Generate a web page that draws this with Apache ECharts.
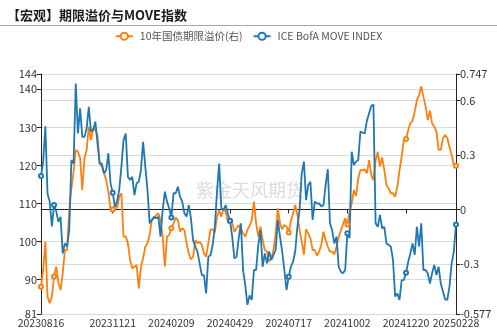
<!DOCTYPE html>
<html>
<head>
<meta charset="utf-8">
<script src="https://cdn.jsdelivr.net/npm/echarts@6/dist/echarts.min.js"></script>
<style>html,body{margin:0;padding:0;background:#fff;}#c{width:497px;height:330px;}</style>
</head>
<body>
<div id="c"></div>
<script>
const titleText = '【宏观】期限溢价与MOVE指数';
const seriesNames = ['10年国债期限溢价(右)', 'ICE BofA MOVE INDEX'];
const watermark = '紫金天风期货';
const startDate = '20230816';
const endDate = '20250228';
const marketHolidays = ['20230904','20231009','20231110','20231123','20231225','20240101','20240115','20240219','20240329','20240527','20240619','20240704','20240902','20241014','20241111','20241128','20241225','20250101','20250120','20250217'];
const tickLabels = ['20230816','20231121','20240209','20240429','20240717','20241002','20241220','20250228'];
const leftTicks = [81, 90, 100, 110, 120, 130, 140, 144];
const rightTicks = [-0.577, -0.3, 0, 0.3, 0.6, 0.747];

const termPremium = [
-0.426,-0.334,-0.178,-0.482,-0.518,-0.482,-0.37,-0.316,-0.404,-0.445,
-0.353,-0.224,-0.224,-0.003,0.116,0.208,0.328,0.318,0.282,0.107,
0.282,0.328,0.456,0.383,0.447,0.438,0.41,0.254,0.236,0.2,
0.162,0.098,-0.003,0.0,0.024,0.006,0.07,0.089,-0.15,-0.15,
-0.187,-0.279,-0.325,-0.316,-0.307,-0.436,-0.316,-0.27,-0.206,-0.187,
-0.141,-0.059,-0.049,-0.031,-0.022,-0.059,-0.15,-0.316,-0.15,-0.141,
-0.104,-0.077,-0.045,-0.059,-0.123,-0.104,-0.114,-0.187,-0.242,-0.276,
-0.261,-0.169,-0.187,-0.178,-0.196,-0.242,-0.261,-0.187,-0.11,-0.11,
-0.128,-0.04,-0.003,-0.04,0.006,-0.013,-0.068,-0.065,-0.077,-0.123,
-0.104,-0.088,-0.104,-0.132,-0.15,-0.114,-0.09,-0.059,0.043,-0.077,
-0.15,-0.095,-0.169,-0.224,-0.233,-0.288,-0.27,-0.224,-0.132,0.006,
-0.077,-0.11,-0.086,-0.095,-0.128,-0.062,-0.022,0.024,-0.031,-0.114,
-0.178,-0.25,-0.11,-0.132,-0.16,-0.224,-0.224,-0.255,-0.233,-0.196,
-0.123,-0.169,-0.206,-0.233,-0.233,-0.248,-0.206,-0.15,-0.117,-0.081,
-0.049,-0.083,-0.013,0.033,0.107,0.074,0.171,0.217,0.217,0.221,
0.199,0.272,0.19,0.162,0.269,0.318,0.236,0.287,0.217,0.135,
0.116,0.089,0.089,0.07,0.125,0.217,0.291,0.383,0.388,0.438,
0.475,0.49,0.539,0.603,0.631,0.68,0.622,0.57,0.493,0.545,
0.475,0.456,0.429,0.328,0.328,0.392,0.41,0.392,0.346,0.3,
0.245,0.241
];

const moveIndex = [
117.2,121,130.3,112.6,110.5,104,109.6,108,105.2,106.5,
96.9,99.5,98.7,103,121.4,120.5,141.5,128.4,135,127.5,
127.5,129.7,135.4,128.9,129.3,131.5,125.8,120.5,120.5,117.9,
118.8,123.2,115.3,112.85,109.2,110.5,113.6,119.7,126.7,128.4,
117,116.2,117,112.2,115.3,115.7,118.8,126.2,119.7,113.6,
104.8,105.7,106.5,106.1,106.5,101.3,108.3,113.1,110.5,108.7,
106.3,112.7,112.7,114.4,111.8,110.5,107.4,106.6,109.6,106.1,
100.4,98.7,97.4,94.3,91.2,91.2,86.4,96,96.5,99.1,
103.9,113.1,120.5,108.7,108.3,109.6,107.4,105.5,101.3,95.6,
96,100.9,104.8,92.55,88.6,83.4,85.9,84.7,92.55,92.55,
99.1,103,93.4,96.9,94.3,97.4,95.2,96.5,97.8,105.7,
101.3,97.4,92.55,87.3,90.8,93.4,94.7,97.4,103.9,108.3,
117.9,121,110.9,114.9,115.7,105.7,110.5,110,110.05,109.2,
109.6,114.9,119,104.8,103,99.5,101.3,93.4,92.1,91.7,
92.55,102.2,100.9,123.6,120.1,121,121.4,128.9,128.6,128.4,
131.75,133.7,135.6,136,104.8,103.9,107,103.5,103.9,99.5,
99.1,98.7,95.2,85.6,86.4,84.7,89.9,89.9,91.8,94.7,
96.9,99.5,96.5,103.9,98.7,104.8,92.55,92.55,91.7,89,
91.7,93.9,91.2,93.4,89,86.9,84.85,84.7,88.2,94.3,
97.4,104.5
];

function buildTradingDays(s, e, hol) {
  const out = [];
  const d = new Date(Date.UTC(+s.slice(0,4), +s.slice(4,6)-1, +s.slice(6,8)));
  const end = new Date(Date.UTC(+e.slice(0,4), +e.slice(4,6)-1, +e.slice(6,8)));
  while (d <= end) {
    const wd = d.getUTCDay();
    const str = d.getUTCFullYear() + String(d.getUTCMonth()+1).padStart(2,'0') + String(d.getUTCDate()).padStart(2,'0');
    if (wd !== 0 && wd !== 6 && hol.indexOf(str) < 0) out.push(str);
    d.setUTCDate(d.getUTCDate()+1);
  }
  return out;
}
const tradingDays = buildTradingDays(startDate, endDate, marketHolidays);
const categories = tradingDays.filter((d, i) => i % 2 === 0);

const labelIdx = {};
categories.forEach((c, i) => { if (tickLabels.indexOf(c) >= 0) labelIdx[i] = 1; });
const hiddenIdx = {6: 1};

const chart = echarts.init(document.getElementById('c'), null, {renderer: 'canvas'});
const font = '"Noto Sans CJK SC", "Noto Sans", sans-serif';
chart.setOption({
  animation: false,
  backgroundColor: '#fff',
  textStyle: {fontFamily: font},
  title: {
    text: titleText, left: 2, top: 4,
    textStyle: {fontSize: 13, fontWeight: 'bold', color: '#1a1a1a', fontFamily: font}
  },
  graphic: [
    {type: 'line', shape: {x1: 0, y1: 25.5, x2: 497, y2: 25.5}, style: {stroke: '#a6a6a6', lineWidth: 1}, silent: true},
    {type: 'text', left: 196, top: 181, z: 0, silent: true,
     style: {text: watermark, fontSize: 18, fill: 'rgba(190,190,190,0.55)', fontFamily: font}}
  ],
  legend: {
    top: 26, left: 'center', itemWidth: 17, itemHeight: 9, itemGap: 10,
    textStyle: {fontSize: 10.5, color: '#555', fontFamily: font, padding: [0, 0, 0, 2]},
    data: seriesNames
  },
  grid: {left: 41, right: 41, top: 74, bottom: 16, containLabel: false, outerBoundsMode: 'none'},
  xAxis: [
    {
      type: 'category', data: categories, boundaryGap: false, position: 'bottom',
      axisLine: {show: false, onZero: false},
      axisTick: {show: false},
      axisLabel: {
        interval: (i) => !!labelIdx[i] || !!hiddenIdx[i],
        formatter: (v) => tickLabels.indexOf(v) >= 0 ? v : '',
        margin: 3, fontSize: 10.5, color: '#333', fontFamily: font, lineHeight: 12,
        showMinLabel: true, showMaxLabel: true
      },
      splitLine: {show: false}
    },
    {
      type: 'category', data: categories, boundaryGap: false, position: 'top',
      axisLine: {show: true, onZero: true, onZeroAxisIndex: 1, lineStyle: {color: '#222', width: 1}},
      axisTick: {show: true, inside: true, length: 4, lineStyle: {color: '#222'}, interval: (i) => !!labelIdx[i]},
      axisLabel: {show: false, interval: (i) => !!labelIdx[i]},
      splitLine: {show: false}
    }
  ],
  yAxis: [
    {
      type: 'value', position: 'left', min: 81, max: 144,
      axisLine: {show: true, lineStyle: {color: '#222'}},
      axisTick: {show: true, length: 4, customValues: leftTicks, lineStyle: {color: '#222'}},
      axisLabel: {customValues: leftTicks, fontSize: 11, color: '#333', margin: 4, fontFamily: font},
      splitLine: {show: true, lineStyle: {color: '#dadada', width: 1}}
    },
    {
      type: 'value', position: 'right', min: -0.577, max: 0.747,
      axisLine: {show: true, lineStyle: {color: '#222'}},
      axisTick: {show: true, length: 4, customValues: rightTicks, lineStyle: {color: '#222'}},
      axisLabel: {customValues: rightTicks, fontSize: 11, color: '#333', margin: 4, fontFamily: font},
      splitLine: {show: true, lineStyle: {color: '#dadada', width: 1}}
    }
  ],
  series: [
    {
      name: seriesNames[0], type: 'line', xAxisIndex: 0, yAxisIndex: 1, data: termPremium,
      symbol: 'emptyCircle', symbolSize: 4, showSymbol: true,
      itemStyle: {color: '#ff7f0e'}, lineStyle: {color: '#ff7f0e', width: 1.8}
    },
    {
      name: seriesNames[1], type: 'line', xAxisIndex: 0, yAxisIndex: 0, data: moveIndex,
      symbol: 'emptyCircle', symbolSize: 4, showSymbol: true,
      itemStyle: {color: '#1f77b4'}, lineStyle: {color: '#1f77b4', width: 1.8}
    }
  ]
});
</script>
</body>
</html>
